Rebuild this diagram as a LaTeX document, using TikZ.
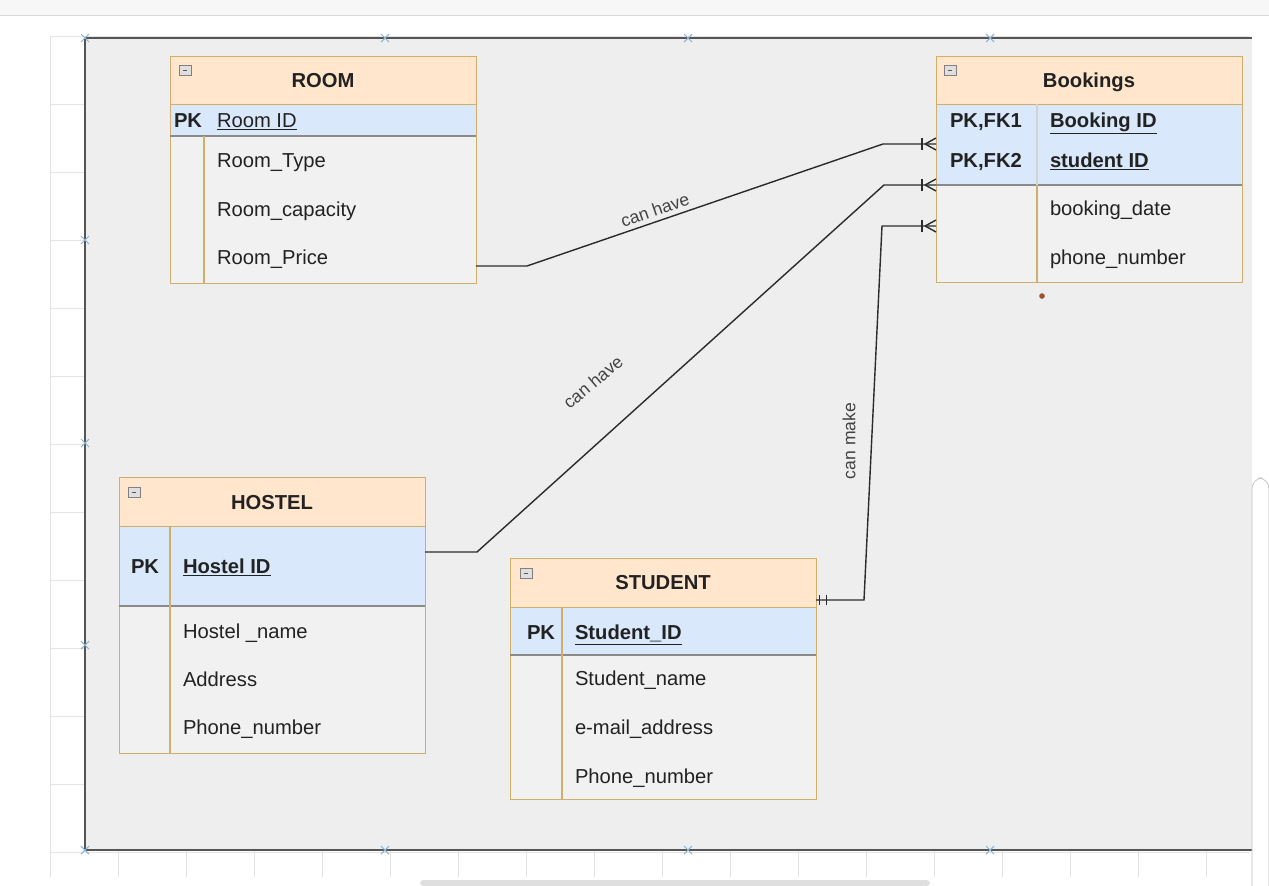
\documentclass[tikz,border=0pt]{standalone}
\usepackage{fontspec}
\setmainfont{Liberation Sans}
\usetikzlibrary{decorations.markings}

\newcommand{\pxu}{0.02cm}
\definecolor{hdrfill}{HTML}{FFE6CC}
\definecolor{keyfill}{HTML}{DAE8FC}
\definecolor{bodyfill}{HTML}{F1F1F1}
\definecolor{tblline}{HTML}{D2AE6C}
\definecolor{rowline}{HTML}{8A8A8A}
\definecolor{pagegray}{HTML}{EEEEEE}
\definecolor{pageedge}{HTML}{555555}
\definecolor{gridgray}{HTML}{E4E4E4}
\definecolor{handleblue}{HTML}{8DB0CF}
\definecolor{txtdark}{HTML}{222222}
\definecolor{linkgray}{HTML}{2B2B2B}
\definecolor{dotbrown}{HTML}{A0522D}

\begin{document}
\begin{tikzpicture}[x=0.02cm, y=-0.02cm,
  every node/.style={inner sep=0pt, outer sep=0pt, text=txtdark, font=\fontsize{11.5}{13}\selectfont},
  tblhead/.style={draw=tblline, fill=hdrfill, anchor=north west, minimum width=306*\pxu, minimum height=48*\pxu},
  tblkey/.style={draw=tblline, fill=keyfill, anchor=north west, minimum width=306*\pxu},
  tblbody/.style={draw=tblline, fill=bodyfill, anchor=north west, minimum width=306*\pxu},
  tbltitle/.style={anchor=base, font=\fontsize{11.5}{13}\selectfont\bfseries},
  keytag/.style={anchor=base west, font=\fontsize{11.5}{13}\selectfont\bfseries},
  attrtext/.style={anchor=base west},
  foldicon/.style={draw=gray, fill=gray!25, minimum width=12*\pxu, minimum height=10*\pxu,
    path picture={\draw[gray!70!black] ([xshift=2pt]path picture bounding box.west) -- ([xshift=-2pt]path picture bounding box.east);}},
  coldiv/.style={draw=tblline, line width=0.6pt},
  rowdiv/.style={draw=rowline, line width=0.6pt},
  rel/.style={draw=linkgray, line width=0.8pt},
  manyend/.style={postaction={decorate, decoration={markings, mark=at position 1 with {
    \draw[linkgray, line width=0.8pt] (-8pt,-3.4pt) -- (-8pt,3.4pt);
    \draw[linkgray, line width=0.8pt] (-6.2pt,0pt) -- (0pt,3.4pt) (-6.2pt,0pt) -- (0pt,-3.4pt);}}}},
  oneend/.style={postaction={decorate, decoration={markings, mark=at position 0 with {
    \draw[linkgray, line width=0.8pt] (2pt,-2.8pt) -- (2pt,2.8pt) (6pt,-2.8pt) -- (6pt,2.8pt);}}}},
  linklabel/.style={font=\fontsize{10}{12}\selectfont, text=txtdark!85}]

\useasboundingbox (0,0) rectangle (1269,886);

% editor canvas
\fill[gray!6] (0,0) rectangle (1269,15);
\draw[gray!30] (0,15) -- (1269,15);
\foreach \gx in {50,118,...,1250}
  \draw[gridgray] (\gx,36) -- (\gx,877);
\foreach \gy in {36,104,...,877}
  \draw[gridgray] (50,\gy) -- (1250,\gy);
\fill[pagegray] (85,38) rectangle (1252,850);
\draw[pageedge, line width=0.9pt] (1252,38) -- (85,38) -- (85,850) -- (1252,850);
\draw[gray!50, fill=white, rounded corners=6] (1252,886) -- (1252,478) -- (1269,478) -- (1269,886);
\fill[gray!25, rounded corners=2] (420,880) rectangle (930,886);
\foreach \hx/\hy in {85/38,385/38,688/38,990/38,85/240,85/443,85/645,85/850,385/850,688/850,990/850}
  \draw[handleblue, line width=0.6pt] (\hx-4,\hy-4) -- (\hx+4,\hy+4) (\hx-4,\hy+4) -- (\hx+4,\hy-4);

% ROOM
\node[tblbody, minimum height=147*\pxu] (room-body) at (170,136) {};
\node[tblkey, minimum height=32*\pxu] (room-key) at (170,104) {};
\node[tblhead] (room-head) at (170,56) {};
\draw[rowdiv] (room-key.south west) -- (room-key.south east);
\draw[coldiv] (204,136) -- (204,283);
\node[foldicon] (room-fold) at (185,70) {};
\node[tbltitle] (room-t) at (323,87) {ROOM};
\node[keytag] (room-pk) at (174,127) {PK};
\node[attrtext] (room-id) at (217,127) {\underline{Room ID}};
\node[attrtext] (room-type) at (217,167) {Room\_Type};
\node[attrtext] (room-cap) at (217,216) {Room\_capacity};
\node[attrtext] (room-price) at (217,264) {Room\_Price};

% Bookings
\node[tblbody, minimum height=97*\pxu] (book-body) at (936,185) {};
\node[tblkey, minimum height=81*\pxu] (book-key) at (936,104) {};
\node[tblhead] (book-head) at (936,56) {};
\draw[rowdiv] (book-key.south west) -- (book-key.south east);
\draw[coldiv] (1037,185) -- (1037,282);
\draw[draw=gray!35, line width=0.6pt] (1037,104) -- (1037,185);
\node[foldicon] (book-fold) at (950,70) {};
\node[tbltitle] (book-t) at (1089,87) {Bookings};
\node[keytag] (book-pk1) at (950,127) {PK,FK1};
\node[keytag] (book-pk2) at (950,167) {PK,FK2};
\node[keytag] (book-id) at (1050,127) {\underline{Booking ID}};
\node[keytag] (book-sid) at (1050,167) {\underline{student ID}};
\node[attrtext] (book-date) at (1050,215) {booking\_date};
\node[attrtext] (book-phone) at (1050,264) {phone\_number};
\fill[dotbrown] (1042,296) circle[radius=1.6pt];

% HOSTEL
\node[tblbody, minimum height=147*\pxu] (hostel-body) at (119,606) {};
\node[tblkey, minimum height=80*\pxu] (hostel-key) at (119,526) {};
\node[tblhead, minimum height=49*\pxu] (hostel-head) at (119,477) {};
\draw[rowdiv] (hostel-key.south west) -- (hostel-key.south east);
\draw[coldiv] (170,526) -- (170,753);
\node[foldicon] (hostel-fold) at (134,492) {};
\node[tbltitle] (hostel-t) at (272,509) {HOSTEL};
\node[keytag] (hostel-pk) at (131,573) {PK};
\node[keytag] (hostel-id) at (183,573) {\underline{Hostel ID}};
\node[attrtext] (hostel-name) at (183,638) {Hostel \_name};
\node[attrtext] (hostel-addr) at (183,686) {Address};
\node[attrtext] (hostel-phone) at (183,734) {Phone\_number};

% STUDENT
\node[tblbody, minimum height=144*\pxu] (student-body) at (510,655) {};
\node[tblkey, minimum height=48*\pxu] (student-key) at (510,607) {};
\node[tblhead, minimum height=49*\pxu] (student-head) at (510,558) {};
\draw[rowdiv] (student-key.south west) -- (student-key.south east);
\draw[coldiv] (562,607) -- (562,799);
\node[foldicon] (student-fold) at (526,573) {};
\node[tbltitle] (student-t) at (663,589) {STUDENT};
\node[keytag] (student-pk) at (527,639) {PK};
\node[keytag] (student-id) at (575,639) {\underline{Student\_ID}};
\node[attrtext] (student-name) at (575,685) {Student\_name};
\node[attrtext] (student-mail) at (575,734) {e-mail\_address};
\node[attrtext] (student-phone) at (575,783) {Phone\_number};

% relationships
\coordinate (room-link) at (room-body.east |- 0,266);
\coordinate (hostel-link) at (hostel-key.east |- 0,552);
\coordinate (student-link) at (student-head.east |- 0,600);
\coordinate (book-room) at (book-key.west |- 0,144);
\coordinate (book-hostel) at (book-key.west |- 0,185);
\coordinate (book-student) at (book-body.west |- 0,226);

\draw[rel, manyend] (room-link) -- ++(51,0) -- (883,144) -- (book-room);
\draw[rel, manyend] (hostel-link) -- ++(52,0) -- (884,185) -- (book-hostel);
\draw[rel, oneend, manyend] (student-link) -- ++(48,0) -- (882,226) -- (book-student);

\node[linklabel, rotate=19] (room-rel) at (655,210) {can have};
\node[linklabel, rotate=40] (hostel-rel) at (593,382) {can have};
\node[linklabel, rotate=90] (student-rel) at (849,441) {can make};

\end{tikzpicture}
\end{document}
